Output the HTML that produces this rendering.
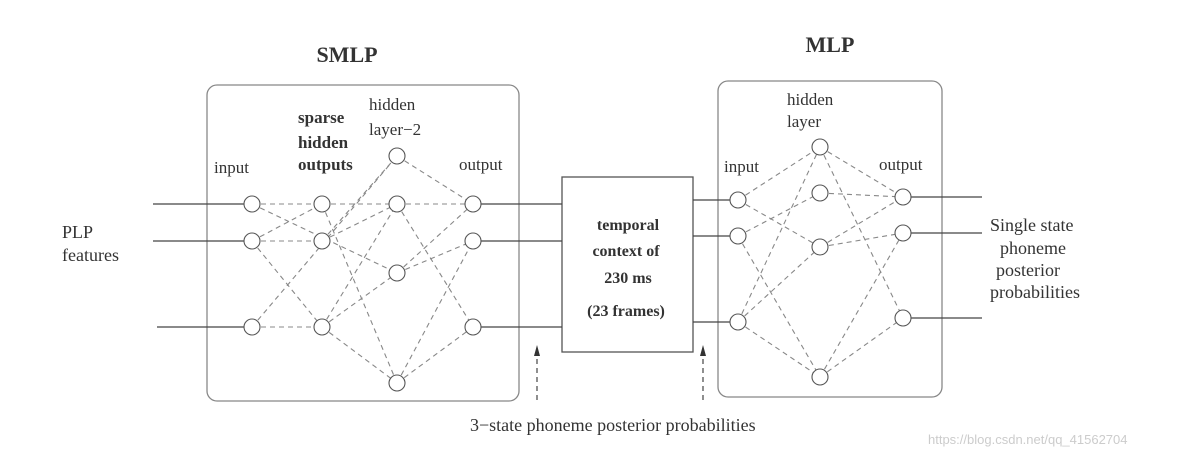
<!DOCTYPE html>
<html><head><meta charset="utf-8"><style>
body{margin:0;background:#fff;}
svg{display:block;font-family:"Liberation Serif",serif;}
</style></head><body>
<svg width="1177" height="457" viewBox="0 0 1177 457" xmlns="http://www.w3.org/2000/svg">
<g fill="none" stroke="#888" stroke-width="1.3">
<rect x="207" y="85" width="312" height="316" rx="10"/>
<rect x="718" y="81" width="224" height="316" rx="10"/>
</g>
<rect x="562" y="177" width="131" height="175" fill="none" stroke="#555" stroke-width="1.3"/>
<g stroke="#444" stroke-width="1.2">
<line x1="153" y1="204" x2="244" y2="204"/><line x1="153" y1="241" x2="244" y2="241"/><line x1="157" y1="327" x2="244" y2="327"/>
<line x1="481" y1="204" x2="562" y2="204"/><line x1="481" y1="241" x2="562" y2="241"/><line x1="481" y1="327" x2="562" y2="327"/>
<line x1="693" y1="200" x2="730" y2="200"/><line x1="693" y1="236" x2="730" y2="236"/><line x1="693" y1="322" x2="730" y2="322"/>
<line x1="911" y1="197" x2="982" y2="197"/><line x1="911" y1="233" x2="982" y2="233"/><line x1="911" y1="318" x2="982" y2="318"/>
</g>
<g stroke="#888" stroke-width="1.1" stroke-dasharray="5,4" fill="none">
<line x1="252" y1="204" x2="322" y2="204"/><line x1="252" y1="204" x2="397" y2="273"/>
<line x1="252" y1="241" x2="322" y2="204"/><line x1="252" y1="241" x2="322" y2="241"/><line x1="252" y1="241" x2="322" y2="327"/>
<line x1="252" y1="327" x2="322" y2="327"/><line x1="252" y1="327" x2="397" y2="156"/>
<line x1="322" y1="204" x2="397" y2="204"/><line x1="322" y1="204" x2="397" y2="383"/>
<line x1="322" y1="241" x2="397" y2="156"/><line x1="322" y1="241" x2="397" y2="204"/>
<line x1="322" y1="327" x2="397" y2="204"/><line x1="322" y1="327" x2="397" y2="273"/><line x1="322" y1="327" x2="397" y2="383"/>
<line x1="397" y1="156" x2="473" y2="204"/><line x1="397" y1="204" x2="473" y2="204"/><line x1="397" y1="204" x2="473" y2="327"/>
<line x1="397" y1="273" x2="473" y2="241"/><line x1="397" y1="273" x2="473" y2="204"/>
<line x1="397" y1="383" x2="473" y2="241"/><line x1="397" y1="383" x2="473" y2="327"/>
<line x1="738" y1="200" x2="820" y2="147"/><line x1="738" y1="200" x2="820" y2="247"/>
<line x1="738" y1="236" x2="820" y2="193"/><line x1="738" y1="236" x2="820" y2="377"/>
<line x1="738" y1="322" x2="820" y2="147"/><line x1="738" y1="322" x2="820" y2="247"/><line x1="738" y1="322" x2="820" y2="377"/>
<line x1="820" y1="147" x2="903" y2="197"/><line x1="820" y1="147" x2="903" y2="318"/>
<line x1="820" y1="193" x2="903" y2="197"/>
<line x1="820" y1="247" x2="903" y2="197"/><line x1="820" y1="247" x2="903" y2="233"/>
<line x1="820" y1="377" x2="903" y2="233"/><line x1="820" y1="377" x2="903" y2="318"/>
<line x1="537" y1="400" x2="537" y2="354" stroke="#333"/>
<line x1="703" y1="400" x2="703" y2="354" stroke="#333"/>
</g>
<path d="M537,345 L534,356 L540,356 Z M703,345 L700,356 L706,356 Z" fill="#333"/>
<g fill="#fff" stroke="#555" stroke-width="1.1">
<circle cx="252" cy="204" r="8"/><circle cx="252" cy="241" r="8"/><circle cx="252" cy="327" r="8"/>
<circle cx="322" cy="204" r="8"/><circle cx="322" cy="241" r="8"/><circle cx="322" cy="327" r="8"/>
<circle cx="397" cy="156" r="8"/><circle cx="397" cy="204" r="8"/><circle cx="397" cy="273" r="8"/><circle cx="397" cy="383" r="8"/>
<circle cx="473" cy="204" r="8"/><circle cx="473" cy="241" r="8"/><circle cx="473" cy="327" r="8"/>
<circle cx="738" cy="200" r="8"/><circle cx="738" cy="236" r="8"/><circle cx="738" cy="322" r="8"/>
<circle cx="820" cy="147" r="8"/><circle cx="820" cy="193" r="8"/><circle cx="820" cy="247" r="8"/><circle cx="820" cy="377" r="8"/>
<circle cx="903" cy="197" r="8"/><circle cx="903" cy="233" r="8"/><circle cx="903" cy="318" r="8"/>
</g>
<g fill="#333" font-size="17">
<text x="347" y="62" font-size="22" font-weight="bold" text-anchor="middle">SMLP</text>
<text x="830" y="52" font-size="22" font-weight="bold" text-anchor="middle">MLP</text>
<text x="62" y="238" font-size="18">PLP</text>
<text x="62" y="261" font-size="18">features</text>
<text x="214" y="173">input</text>
<text x="459" y="170">output</text>
<g font-weight="bold"><text x="298" y="123">sparse</text><text x="298" y="148">hidden</text><text x="298" y="170">outputs</text></g>
<text x="369" y="110">hidden</text><text x="369" y="135">layer−2</text>
<text x="724" y="172">input</text>
<text x="879" y="170">output</text>
<text x="787" y="105">hidden</text><text x="787" y="127">layer</text>
<g font-weight="bold" text-anchor="middle" font-size="16"><text x="628" y="230">temporal</text><text x="626" y="256">context of</text><text x="628" y="283">230 ms</text><text x="626" y="316">(23 frames)</text></g>
<g font-size="18"><text x="990" y="231">Single state</text><text x="1000" y="254">phoneme</text><text x="996" y="276">posterior</text><text x="990" y="298">probabilities</text></g>
<text x="470" y="431" font-size="18">3−state phoneme posterior probabilities</text>
</g>
<text x="928" y="444" font-family="Liberation Sans,sans-serif" font-size="13" fill="#ccc">https://blog.csdn.net/qq_41562704</text>
</svg>
</body></html>
